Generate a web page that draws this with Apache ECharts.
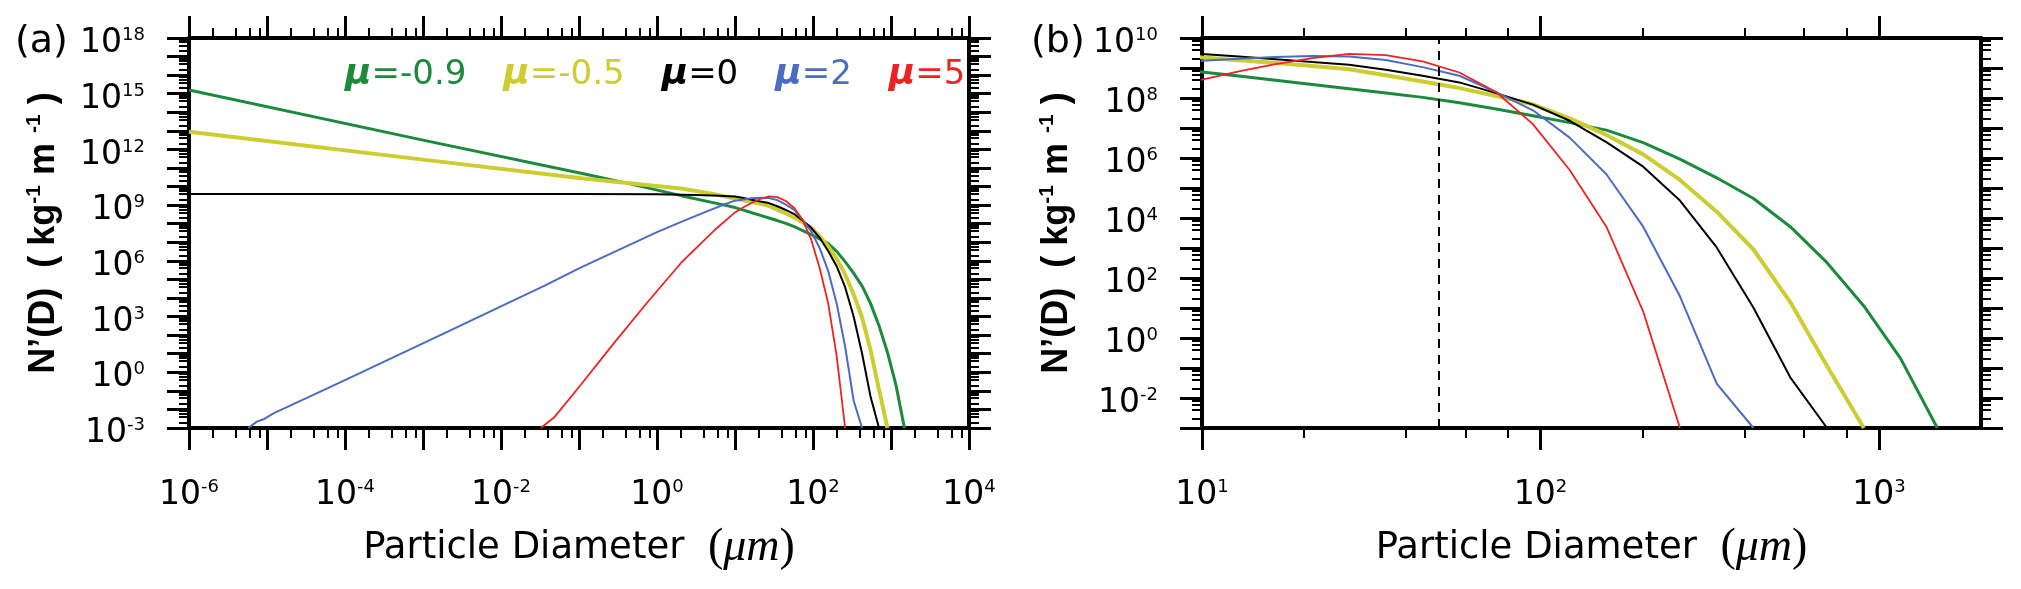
<!DOCTYPE html>
<html>
<head>
<meta charset="utf-8">
<script src="https://cdn.jsdelivr.net/npm/echarts@6/dist/echarts.min.js"></script>
<style>
html,body{margin:0;padding:0;background:#ffffff;}
#chart{width:2021px;height:589px;}
</style>
</head>
<body>
<div id="chart"></div>
<script>
// ---------------- data ----------------
// shared diameter grid (um) for D >= 10
const D_grid = [10, 12.84, 16.49, 21.18, 27.19, 34.91, 44.83, 57.57, 73.92, 94.93, 121.9, 156.5, 201.0, 258.1, 331.4, 425.6, 546.5, 701.8, 901.2, 1157, 1486];

// mu = -0.9
const D_low_m09 = [1e-6, 1e-3, 0.1062, 0.398, 2.04, 7.33];
const N_low_m09 = [1.58e15, 3.16e12, 5.25e10, 1.58e10, 3.24e9, 1.0e9];
const N_grid_m09 = [7.41e8, 5.37e8, 3.89e8, 2.82e8, 2.04e8, 1.48e8, 1.05e8, 6.92e7, 4.27e7, 2.57e7, 1.51e7, 8.51e6, 3.24e6, 9.12e5, 2.19e5, 4.47e4, 5.13e3, 324, 11.7, 0.209, 1e-3];

// mu = -0.5
const D_low_m05 = [1e-6, 1e-3, 0.1062, 2.04, 5.01];
const N_low_m05 = [8.91e12, 2.82e11, 2.82e10, 7.94e9, 4.17e9];
const N_grid_m05 = [2.24e9, 1.82e9, 1.48e9, 1.17e9, 9.12e8, 5.75e8, 3.55e8, 2.14e8, 1.17e8, 6.17e7, 2.09e7, 5.89e6, 1.32e6, 1.86e5, 1.62e4, 891, 15.8, 0.117, 1e-3];

// mu = 0
const D_low_0 = [1e-6, 0.1, 1, 3.16, 6.31];
const N_low_0 = [3.98e9, 3.98e9, 3.89e9, 3.55e9, 3.24e9];
const N_grid_0 = [2.92e9, 2.40e9, 1.95e9, 1.58e9, 1.29e9, 8.71e8, 5.50e8, 3.31e8, 1.45e8, 6.03e7, 1.74e7, 3.39e6, 5.13e5, 3.80e4, 1047, 10.2, 0.049, 1e-3];

// mu = 2
const D_low_2 = [5.75e-6, 7.41e-6, 9.02e-6, 1.21e-5, 1e-4, 2.11e-3, 0.0363, 0.1062, 1, 2.04, 3.98, 7.38];
const N_low_2 = [1e-3, 2.19e-3, 2.95e-3, 6.17e-3, 0.380, 158, 4.68e4, 4.47e5, 3.55e7, 1.26e8, 3.98e8, 1.12e9];
const N_grid_2 = [1.74e9, 2.04e9, 2.34e9, 2.51e9, 2.40e9, 1.86e9, 1.07e9, 5.50e8, 1.58e8, 3.89e7, 4.79e6, 2.88e5, 5.13e3, 24.5, 0.0302, 1e-3];

// mu = 5
const D_low_5 = [0.0324, 0.049, 0.1062, 0.284, 0.764, 2.04, 5.48];
const N_low_5 = [1e-3, 4.07e-3, 0.22, 39.8, 6.31e3, 7.94e5, 4.57e7];
const N_grid_5 = [4.07e8, 7.76e8, 1.35e9, 2.14e9, 2.95e9, 2.69e9, 1.66e9, 7.08e8, 1.58e8, 1.35e7, 3.98e5, 5.13e3, 7.59, 1e-3];

const seriesNames = ['μ=-0.9', 'μ=-0.5', 'μ=0', 'μ=2', 'μ=5'];
const dashedD = 50;

// tick labels
const xA_labels = [1e-6, 1e-4, 1e-2, 1e0, 1e2, 1e4];
const yA_labels = [1e-3, 1e0, 1e3, 1e6, 1e9, 1e12, 1e15, 1e18];
const xB_labels = [1e1, 1e2, 1e3];
const yB_labels = [1e-2, 1e0, 1e2, 1e4, 1e6, 1e8, 1e10];

// ---------------- helpers ----------------
function decades(e0, e1) { const a = []; for (let e = e0; e <= e1; e++) a.push(Number('1e' + e)); return a; }
function minors(e0, e1, maxV) {
  const a = [];
  for (let e = e0; e < e1; e++) for (const m of [2, 4, 6, 8]) { const v = Number(m + 'e' + e); if (v < maxV) a.push(v); }
  return a;
}
// keep values at the axis ends just inside the extent (log rounding)
function inside(vals, min, max) {
  return vals.map(function (v) {
    if (v >= max * (1 - 1e-9)) return max * (1 - 1e-7);
    if (v <= min * (1 + 1e-9)) return min * (1 + 1e-7);
    return v;
  });
}
const xA_major = decades(-6, 4), xA_minor = minors(-6, 4, 1e4);
const yA_major = decades(-3, 18), yA_minor = minors(-3, 18, 1e18);
const xB_major = decades(1, 3), xB_minor = minors(1, 4, 2000);
const yB_major = decades(-3, 10), yB_minor = minors(-3, 10, 1e10);

function pairs(Dl, Nl, Nh) {
  const D = Dl.concat(D_grid.slice(0, Nh.length));
  const N = Nl.concat(Nh);
  return D.map((d, i) => [d, N[i]]);
}

const C_GREEN = '#1c8a3c', C_YELLOW = '#cdcd32', C_BLACK = '#000000', C_BLUE = '#4b6cc2', C_RED = '#ee2222';
const curves = [
  { name: seriesNames[0], color: C_GREEN, width: 3, data: pairs(D_low_m09, N_low_m09, N_grid_m09) },
  { name: seriesNames[1], color: C_YELLOW, width: 4, data: pairs(D_low_m05, N_low_m05, N_grid_m05) },
  { name: seriesNames[2], color: C_BLACK, width: 2, data: pairs(D_low_0, N_low_0, N_grid_0) },
  { name: seriesNames[3], color: C_BLUE, width: 2, data: pairs(D_low_2, N_low_2, N_grid_2) },
  { name: seriesNames[4], color: C_RED, width: 1.8, data: pairs(D_low_5, N_low_5, N_grid_5) }
];

const TF = 'DejaVu Sans';
const TICK_RICH = {
  b: { fontFamily: TF, fontSize: 33, lineHeight: 34, color: '#000' },
  s: { fontFamily: TF, fontSize: 18, lineHeight: 14, verticalAlign: 'top', color: '#000' }
};
function supFmt(v) { const e = Math.round(Math.log10(v)); return '{b|10}{s|' + e + '}'; }

const XNAME = '{t|Particle Diameter  }{p|(}{m|μm}{p|)}';
const XNAME_STYLE = {
  color: '#000',
  rich: {
    t: { fontFamily: TF, fontSize: 37, lineHeight: 44, color: '#000' },
    p: { fontFamily: 'Liberation Serif', fontSize: 46, lineHeight: 44, color: '#000' },
    m: { fontFamily: 'Liberation Serif', fontStyle: 'italic', fontSize: 46, lineHeight: 44, color: '#000' }
  }
};
const YNAME = '{t|N’(D)  ( kg}{s|-1}{t| m }{s|-1}{t| )}';
const YNAME_STYLE = {
  color: '#000',
  rich: {
    t: { fontFamily: 'Liberation Sans', fontWeight: 'bold', fontSize: 36, lineHeight: 40, color: '#000' },
    s: { fontFamily: 'Liberation Sans', fontWeight: 'bold', fontSize: 21, lineHeight: 18, verticalAlign: 'top', color: '#000' }
  }
};

function axisPair(gridIndex, pos, min, max, majors, minorVals, labels, labelOpt, extra) {
  const base = { type: 'log', logBase: 10, gridIndex: gridIndex, position: pos, min: min, max: max,
    splitLine: { show: false }, minorTick: { show: false }, minorSplitLine: { show: false } };
  const main = Object.assign({}, base, {
    axisLine: { show: true, onZero: false, lineStyle: { color: '#000', width: 4 } },
    axisTick: { show: true, customValues: inside(majors, min, max), length: 22, lineStyle: { color: '#000', width: 3 } },
    axisLabel: labels ? Object.assign({ show: true, customValues: inside(labels, min, max), formatter: supFmt, rich: TICK_RICH, color: '#000' }, labelOpt) : { show: false }
  }, extra || {});
  const minor = Object.assign({}, base, {
    axisLine: { show: false, onZero: false },
    axisTick: { show: true, customValues: inside(minorVals, min, max), length: 10, lineStyle: { color: '#000', width: 2 } },
    axisLabel: { show: false }
  });
  return [main, minor];
}

const xNameOpt = { name: XNAME, nameLocation: 'middle', nameGap: 98, nameTextStyle: XNAME_STYLE };
const yNameOpt = { name: YNAME, nameLocation: 'middle', nameRotate: 90, nameGap: 125, nameTextStyle: YNAME_STYLE };
const xLab = { margin: 50 };
const yLab = { margin: 44, padding: [11, 0, 0, 0] };

const xAxes = [].concat(
  axisPair(0, 'bottom', 1e-6, 1e4, xA_major, xA_minor, xA_labels, xLab, xNameOpt),
  axisPair(0, 'top', 1e-6, 1e4, xA_major, xA_minor, null),
  axisPair(1, 'bottom', 10, 2000, xB_major, xB_minor, xB_labels, xLab, xNameOpt),
  axisPair(1, 'top', 10, 2000, xB_major, xB_minor, null)
);
const yAxes = [].concat(
  axisPair(0, 'left', 1e-3, 1e18, yA_major, yA_minor, yA_labels, yLab, yNameOpt),
  axisPair(0, 'right', 1e-3, 1e18, yA_major, yA_minor, null),
  axisPair(1, 'left', 1e-3, 1e10, yB_major, yB_minor, yB_labels, yLab, yNameOpt),
  axisPair(1, 'right', 1e-3, 1e10, yB_major, yB_minor, null)
);

const series = [];
[0, 1].forEach(function (p) {
  curves.forEach(function (c) {
    const s = {
      name: c.name, type: 'line', xAxisIndex: p * 4, yAxisIndex: p * 4,
      data: c.data, showSymbol: false, symbol: 'none', smooth: false, clip: true,
      lineStyle: { color: c.color, width: c.width }, itemStyle: { color: c.color },
      emphasis: { disabled: true }, silent: true
    };
    if (p === 1 && c.name === 'μ=0') {
      s.markLine = {
        silent: true, symbol: ['none', 'none'], label: { show: false },
        lineStyle: { color: '#000', width: 2, type: [9, 7] },
        data: [{ xAxis: dashedD }]
      };
    }
    series.push(s);
  });
});

const legendRich = {};
curves.forEach(function (c, i) {
  legendRich['m' + i] = { fontFamily: TF, fontWeight: 'bold', fontStyle: 'italic', fontSize: 36, lineHeight: 40, color: c.color };
});

const PANEL_STYLE = { fontFamily: TF, fontSize: 38, fontWeight: 'normal', color: '#000', lineHeight: 40 };
const option = {
  animation: false,
  backgroundColor: '#ffffff',
  textStyle: { fontFamily: TF },
  title: [
    { text: '(a)', left: 15, top: 22, padding: 0, textStyle: PANEL_STYLE },
    { text: '(b)', left: 1031, top: 22, padding: 0, textStyle: PANEL_STYLE }
  ],
  legend: {
    left: 340, top: 55, padding: 0, itemGap: 32, itemWidth: 0, itemHeight: 0, icon: 'none',
    selectedMode: false,
    data: curves.map(function (c) { return { name: c.name, textStyle: { color: c.color } }; }),
    formatter: function (name) { const i = seriesNames.indexOf(name); return '{m' + i + '|μ}' + name.slice(1); },
    textStyle: { fontFamily: TF, fontSize: 34, lineHeight: 40, rich: legendRich }
  },
  grid: [
    { left: 189, top: 38, width: 780, height: 390, containLabel: false, outerBoundsMode: 'none' },
    { left: 1202, top: 38, width: 779, height: 390, containLabel: false, outerBoundsMode: 'none' }
  ],
  xAxis: xAxes,
  yAxis: yAxes,
  series: series
};

const chart = echarts.init(document.getElementById('chart'), null, { renderer: 'canvas' });
chart.setOption(option);
</script>
</body>
</html>
